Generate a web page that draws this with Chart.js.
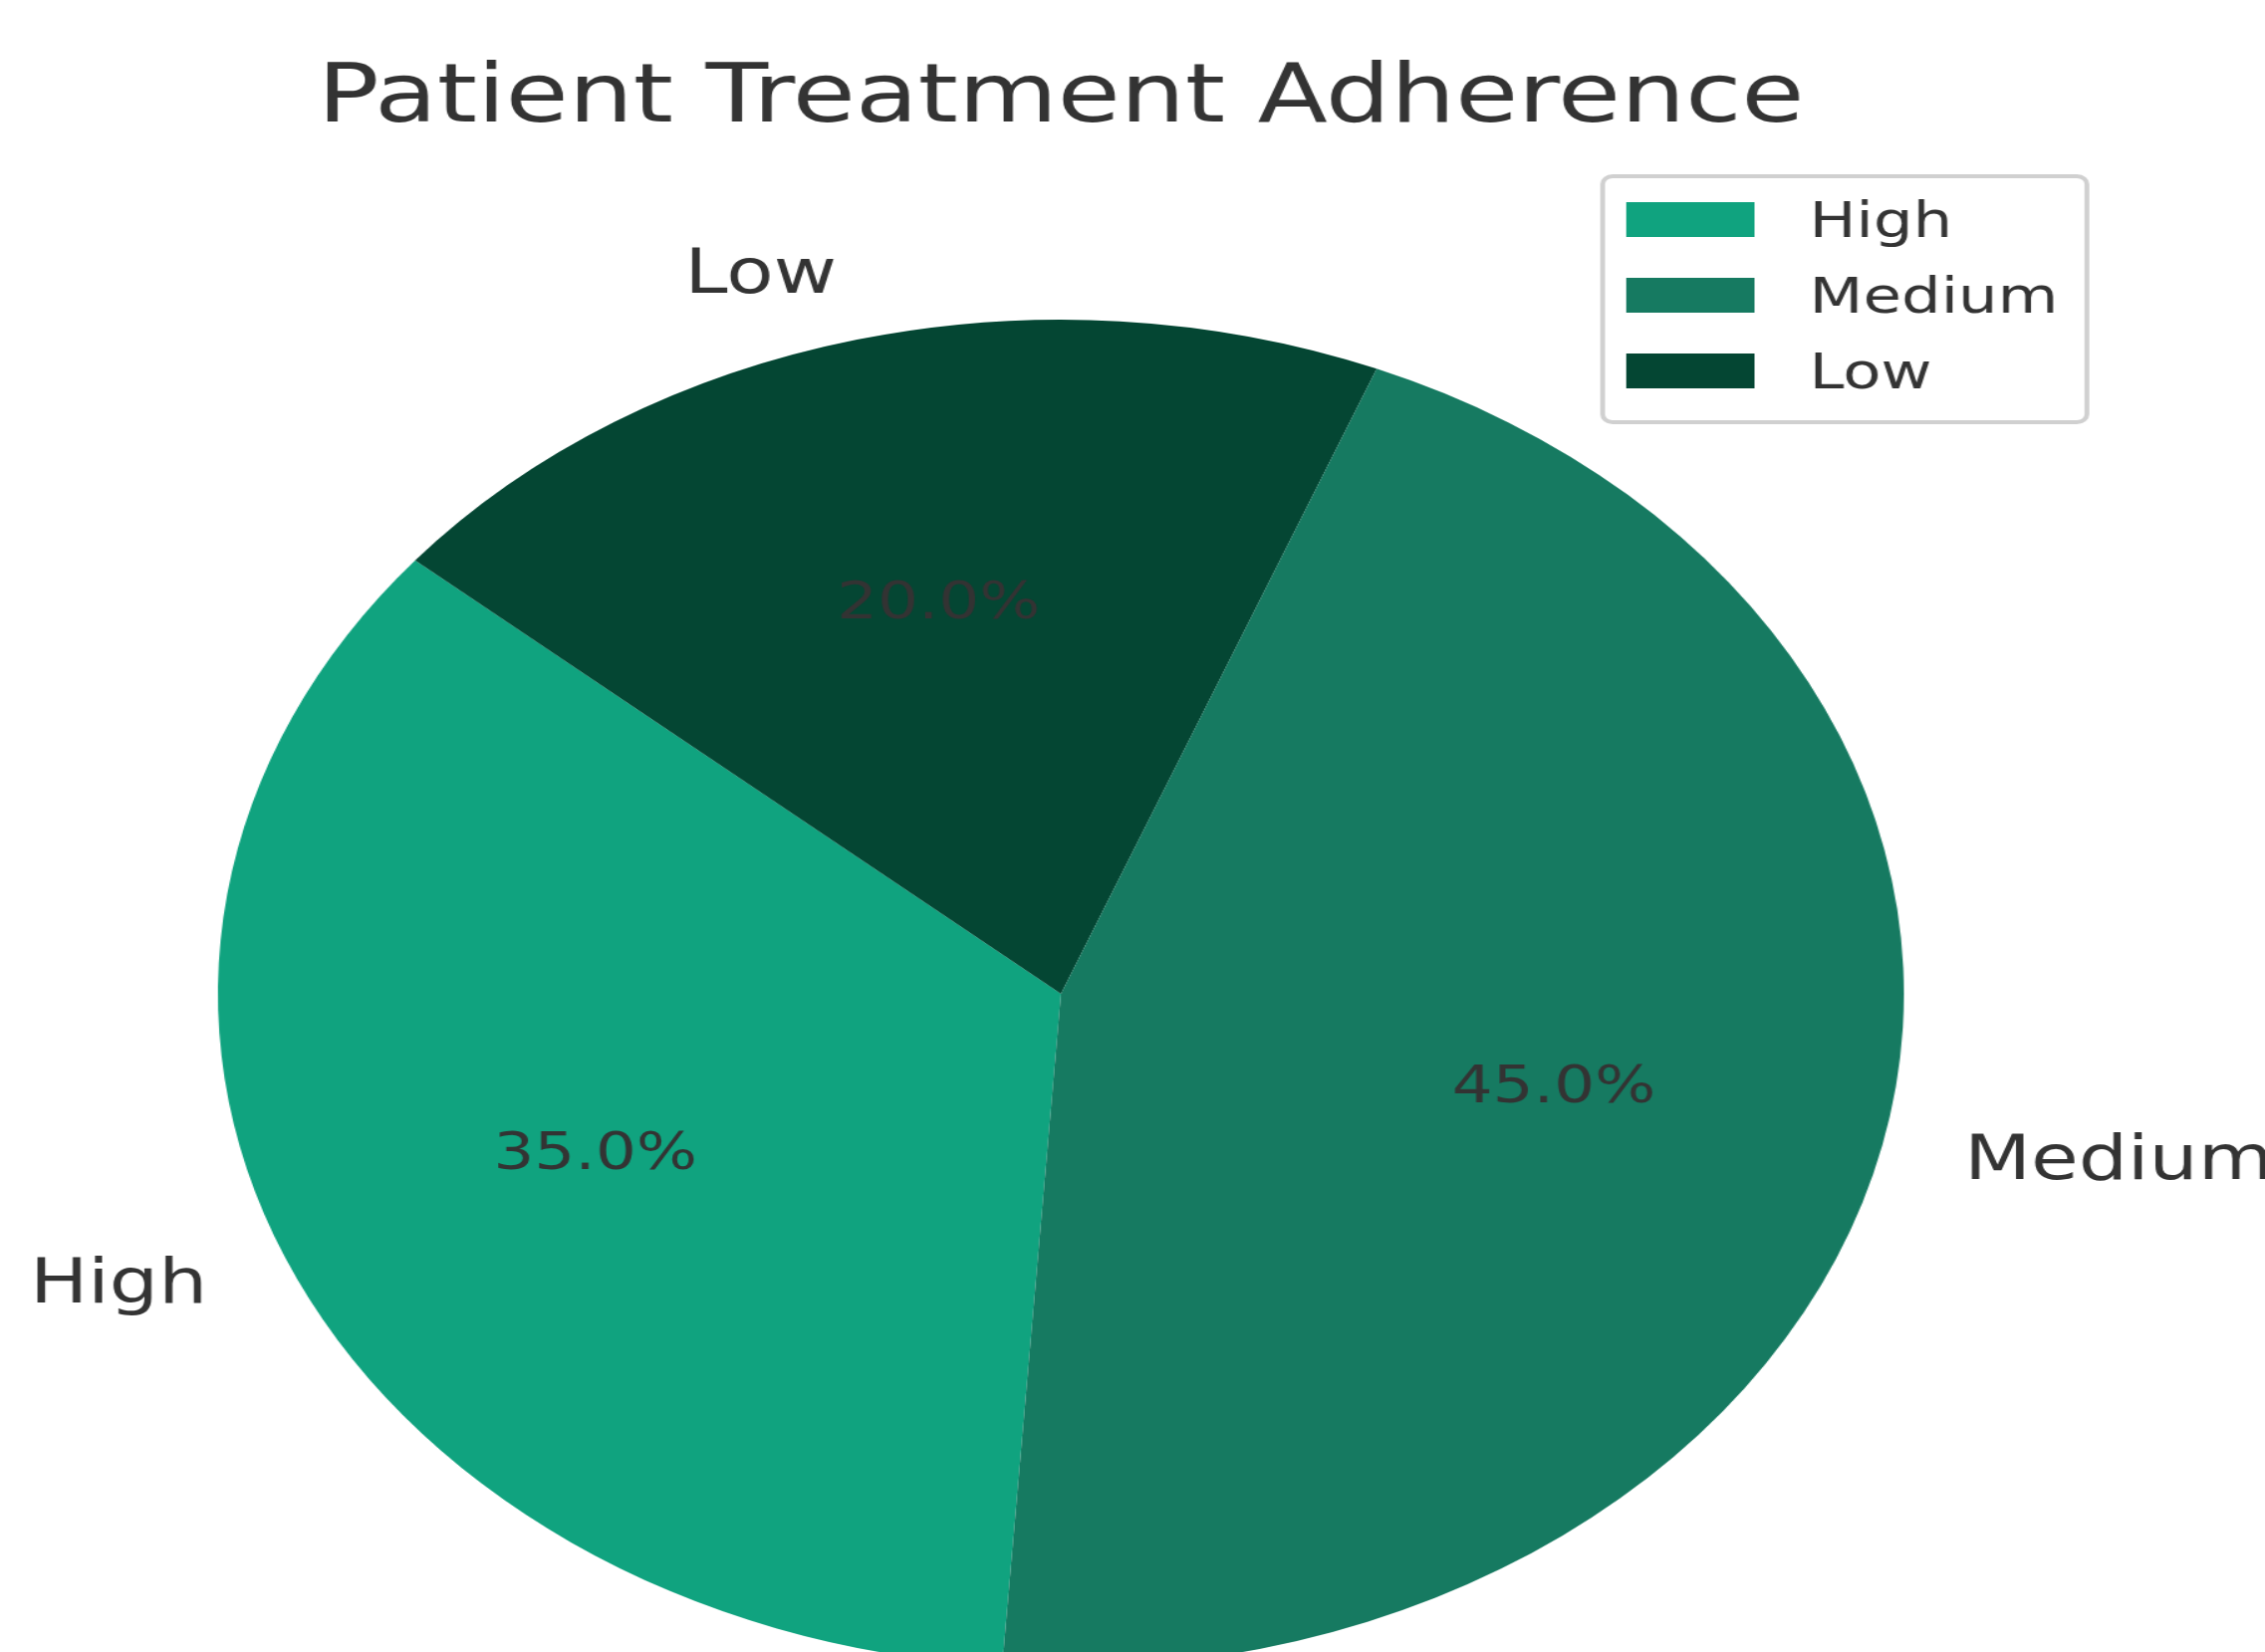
<!DOCTYPE html>
<html>
<head>
<meta charset="utf-8">
<title>Patient Treatment Adherence</title>
<script src="https://cdn.jsdelivr.net/npm/chart.js@4.4.1/dist/chart.umd.min.js"></script>
<style>
  html, body { margin: 0; padding: 0; background: #ffffff; overflow: hidden; }
  #chart { display: block; }
</style>
</head>
<body>
<!-- drawn narrow, then stretched sideways like the reference -->
<canvas id="chart" width="1819" height="1700" style="width:2274px;height:1700px"></canvas>
<script>
// data
const categories = ['High', 'Medium', 'Low'];
const shares = [35, 45, 20];
const sliceColors = ['#10a37f', '#167a61', '#044633'];
// clockwise order of the slices (the original runs counter-clockwise)
const drawOrder = [0, 2, 1];

const TEXT_COLOR = '#333333';
const FONT = '"DejaVu Sans", Verdana, sans-serif';

const total = shares.reduce((a, b) => a + b, 0);

// labels, percentages, title and legend box
const pieText = {
    id: 'pieText',
    afterDraw(chart) {
        const ctx = chart.ctx;
        const arcs = chart.getDatasetMeta(0).data;
        ctx.save();
        ctx.fillStyle = TEXT_COLOR;
        ctx.textBaseline = 'alphabetic';

        arcs.forEach((arc, j) => {
            const i = drawOrder[j];
            const p = arc.getProps(['x', 'y', 'startAngle', 'endAngle', 'outerRadius'], true);
            const mid = (p.startAngle + p.endAngle) / 2;
            const c = Math.cos(mid), s = Math.sin(mid);
            const r = p.outerRadius;

            ctx.font = `62px ${FONT}`;
            ctx.textAlign = c < 0 ? 'right' : 'left';
            ctx.fillText(categories[i], p.x + c * r * 1.1, p.y + s * r * 1.1 + 0.3 * 62);

            ctx.font = `51.5px ${FONT}`;
            ctx.textAlign = 'center';
            const pct = (shares[i] / total * 100).toFixed(1) + '%';
            ctx.fillText(pct, p.x + c * r * 0.6, p.y + s * r * 0.6 + 0.34 * 51.5);
        });

        // title
        ctx.font = `82px ${FONT}`;
        ctx.textAlign = 'center';
        ctx.fillText('Patient Treatment Adherence', 852, 122);

        // legend
        ctx.beginPath();
        ctx.roundRect(1287, 177, 389, 247, 8);
        ctx.fillStyle = 'rgba(255,255,255,0.8)';
        ctx.fill();
        ctx.lineWidth = 3.8;
        ctx.strokeStyle = '#d0d0d0';
        ctx.stroke();

        ctx.font = `50px ${FONT}`;
        ctx.textAlign = 'left';
        categories.forEach((name, i) => {
            const top = 203 + i * 76;
            ctx.fillStyle = sliceColors[i];
            ctx.fillRect(1306, top, 103, 35);
            ctx.fillStyle = TEXT_COLOR;
            ctx.fillText(name, 1453, top + 35);
        });
        ctx.restore();
    }
};

new Chart(document.getElementById('chart'), {
    type: 'pie',
    data: {
        labels: drawOrder.map(i => categories[i]),
        datasets: [{
            data: drawOrder.map(i => shares[i]),
            backgroundColor: drawOrder.map(i => sliceColors[i]),
            borderWidth: 0
        }]
    },
    options: {
        responsive: false,
        devicePixelRatio: 1,
        animation: false,
        rotation: 184,
        layout: { padding: { left: 175, right: 290, top: 321, bottom: 25 } },
        plugins: {
            legend: { display: false },
            title: { display: false },
            tooltip: { enabled: false }
        }
    },
    plugins: [pieText]
});
</script>
</body>
</html>
